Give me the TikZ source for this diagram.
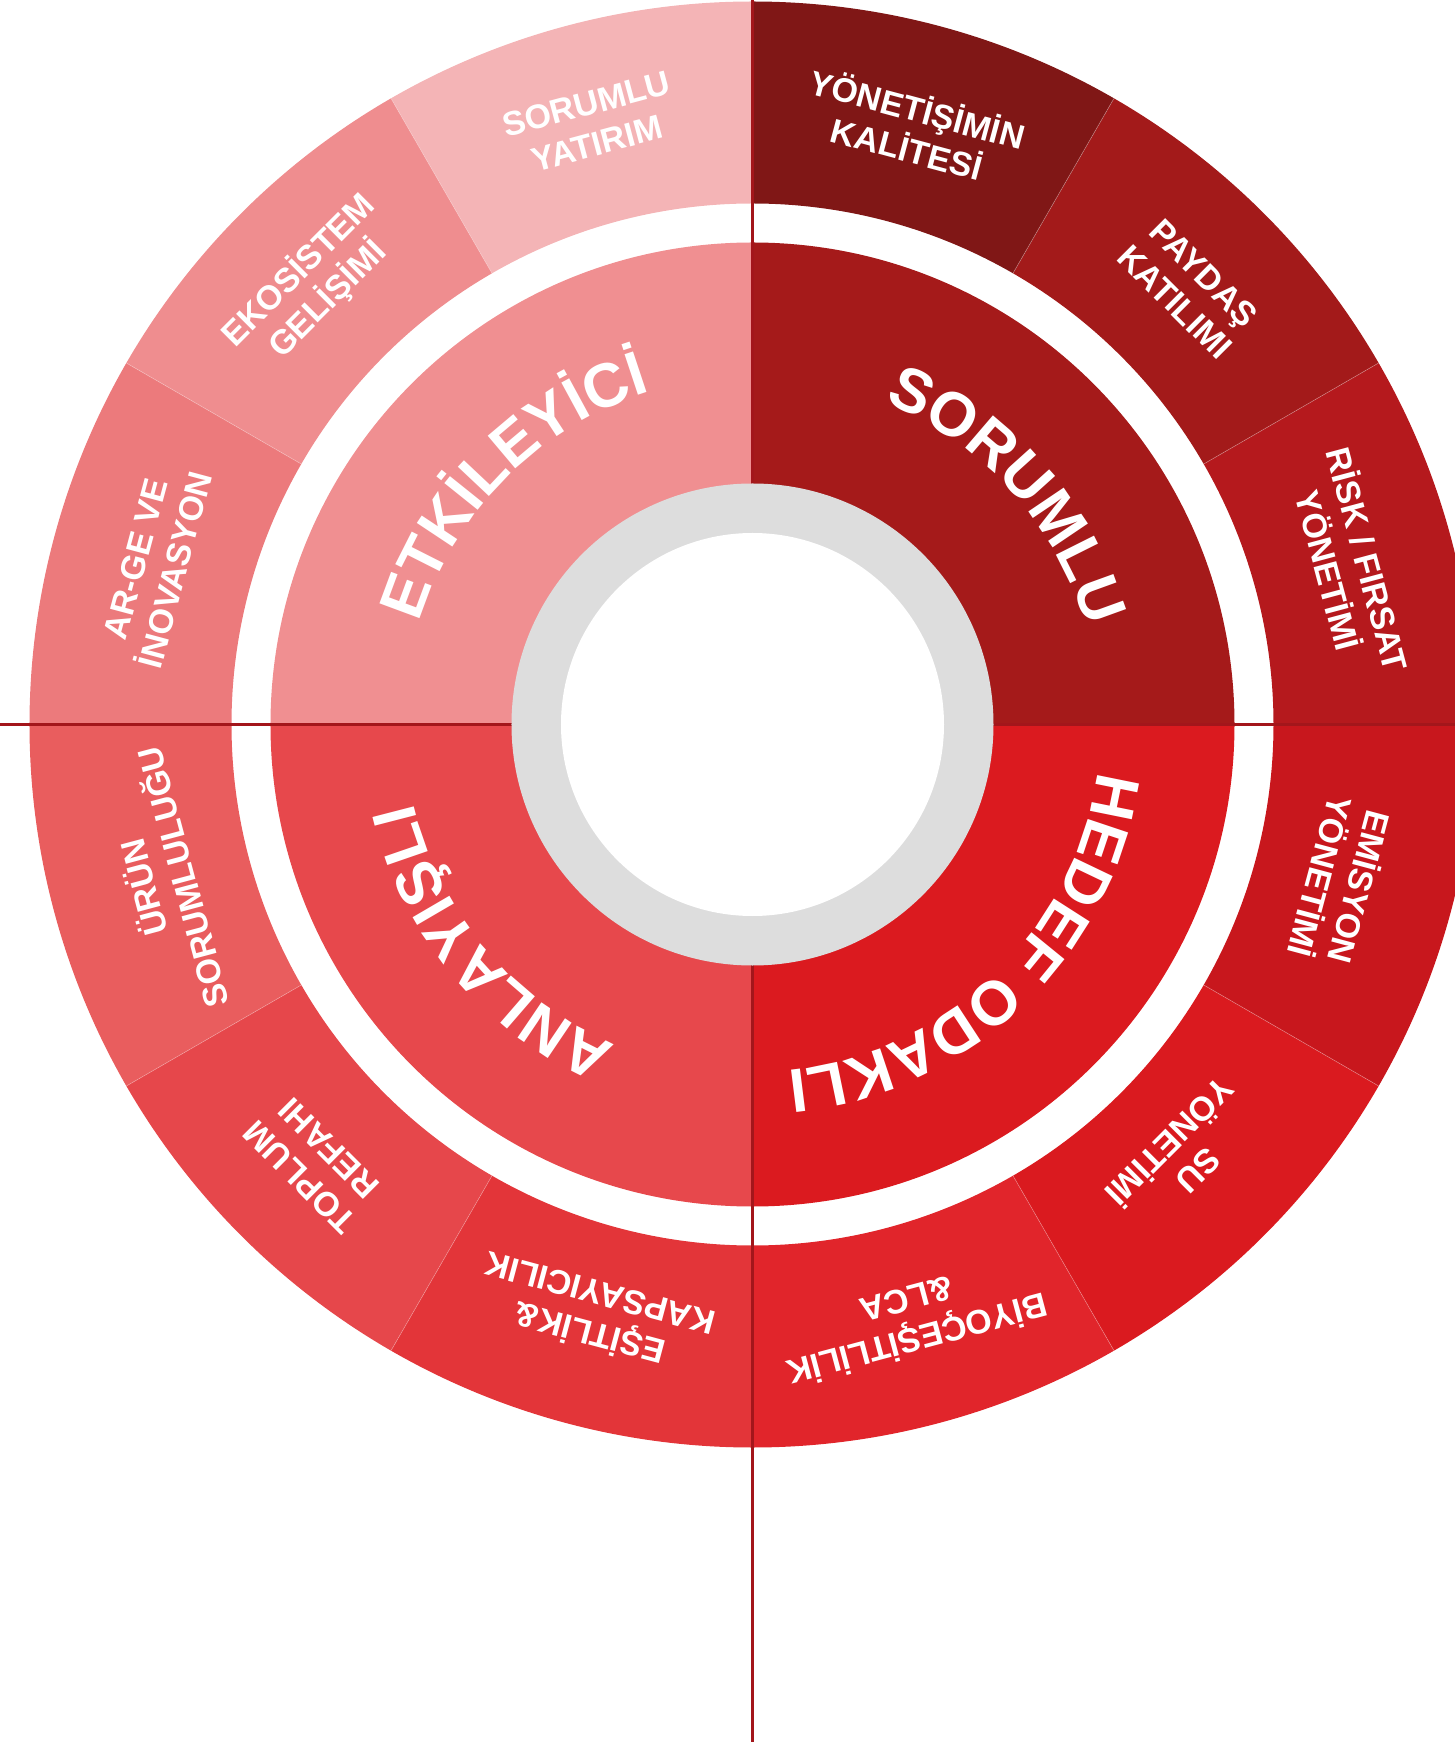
\documentclass[tikz,border=0pt]{standalone}
\usepackage{fontspec}
\setmainfont{Liberation Sans}
\usetikzlibrary{decorations.text}
\definecolor{cRisk}{HTML}{B5191D}
\definecolor{cPaydas}{HTML}{A31A1A}
\definecolor{cYon}{HTML}{801716}
\definecolor{cSorYat}{HTML}{F4B4B6}
\definecolor{cEko}{HTML}{EF8D8F}
\definecolor{cArge}{HTML}{EC7A7C}
\definecolor{cUrun}{HTML}{E95D5E}
\definecolor{cToplum}{HTML}{E6474B}
\definecolor{cEsit}{HTML}{E33539}
\definecolor{cBiyo}{HTML}{E1252B}
\definecolor{cSu}{HTML}{DA1A1F}
\definecolor{cEmis}{HTML}{C8171D}
\definecolor{qSor}{HTML}{A51A1A}
\definecolor{qHed}{HTML}{DB1A1F}
\definecolor{qAnl}{HTML}{E7484C}
\definecolor{qEtk}{HTML}{F08F91}
\definecolor{cGrey}{HTML}{DDDDDD}
\definecolor{cLine}{HTML}{A3161B}
\newcommand\inlabfont{\fontsize{62pt}{62pt}\selectfont\bfseries}
\begin{document}
\begin{tikzpicture}[
  olab/.style={text=white, font=\fontsize{34pt}{41pt}\selectfont\bfseries, align=center, inner sep=0pt},
  sepline/.style={white, opacity=0.35, line width=0.6pt},
  axisline/.style={cLine, line width=3pt},
  arctext/.style={decorate, decoration={text along path, text align=center, text color=white}}
]
\useasboundingbox (-752.5pt,-1017.5pt) rectangle (702.5pt,724.5pt);
\clip (-752.5pt,-1017.5pt) rectangle (702.5pt,724.5pt);
% outer ring segments
\foreach \a/\c [evaluate=\a as \b using \a+30] in {0/cRisk,30/cPaydas,60/cYon,90/cSorYat,120/cEko,150/cArge,180/cUrun,210/cToplum,240/cEsit,270/cBiyo,300/cSu,330/cEmis}{
  \fill[\c] (\a:521pt) arc[start angle=\a, end angle=\b, radius=521pt] -- (\b:723pt) arc[start angle=\b, end angle=\a, radius=723pt] -- cycle;
}
% inner quadrants
\foreach \a/\c [evaluate=\a as \b using \a+90] in {0/qSor,90/qEtk,180/qAnl,270/qHed}{
  \fill[\c] (0,0) -- (\a:482pt) arc[start angle=\a, end angle=\b, radius=482pt] -- cycle;
}
% separators
\foreach \a in {30,60,120,150,210,240,300,330}{
  \draw[sepline] (\a:521pt) -- (\a:723pt);
}
% axis lines
\coordinate (L) at (-752.5pt,0);
\coordinate (R) at (702.5pt,0);
\coordinate (T) at (0,724.5pt);
\coordinate (B) at (0,-1017.5pt);
\draw[axisline] (L) -- (R);
\draw[axisline] (T) -- (B);
% centre
\node[circle, fill=cGrey, minimum size=482pt, inner sep=0pt] (grey) at (0,0) {};
\node[circle, fill=white, minimum size=383pt, inner sep=0pt] (hole) at (0,0) {};
% inner curved labels
\path[arctext, decoration={text={|\inlabfont|SORUMLU}}] (112:348pt) arc[start angle=112, end angle=-28, radius=348pt];
\path[arctext, decoration={text={|\inlabfont|HEDEF ODAKLI}}] (24:348pt) arc[start angle=24, end angle=-116, radius=348pt];
\path[arctext, decoration={text={|\inlabfont|ANLAYIŞLI}}] (290:348pt) arc[start angle=290, end angle=150, radius=348pt];
\path[arctext, decoration={text={|\inlabfont|ETKİLEYİCİ}}] (205:348pt) arc[start angle=205, end angle=65, radius=348pt];
% outer labels
\node[olab, rotate=-75] (risk) at (15:618pt) {RİSK / FIRSAT\\YÖNETİMİ};
\node[olab, rotate=-45] (paydas) at (45:618pt) {PAYDAŞ\\KATILIMI};
\node[olab, rotate=-15] (yonet) at (75:618pt) {YÖNETİŞİMİN\\KALİTESİ};
\node[olab, rotate=15] (soryat) at (105:622pt) {SORUMLU\\YATIRIM};
\node[olab, rotate=45] (eko) at (135:622pt) {EKOSİSTEM\\GELİŞİMİ};
\node[olab, rotate=75] (arge) at (165:618pt) {AR-GE VE\\İNOVASYON};
\node[olab, rotate=105] (urun) at (195:612pt) {ÜRÜN\\SORUMLULUĞU};
\node[olab, rotate=135] (toplum) at (225:620pt) {TOPLUM\\REFAHI};
\node[olab, rotate=165] (esit) at (255:612pt) {EŞİTLİK\&\\KAPSAYICILIK};
\node[olab, rotate=195] (biyo) at (285:618pt) {BİYOÇEŞİTLİLİK\\\&LCA};
\node[olab, rotate=225] (su) at (315:610pt) {SU\\YÖNETİMİ};
\node[olab, rotate=255] (emis) at (345:610pt) {EMİSYON\\YÖNETİMİ};
\end{tikzpicture}
\end{document}
